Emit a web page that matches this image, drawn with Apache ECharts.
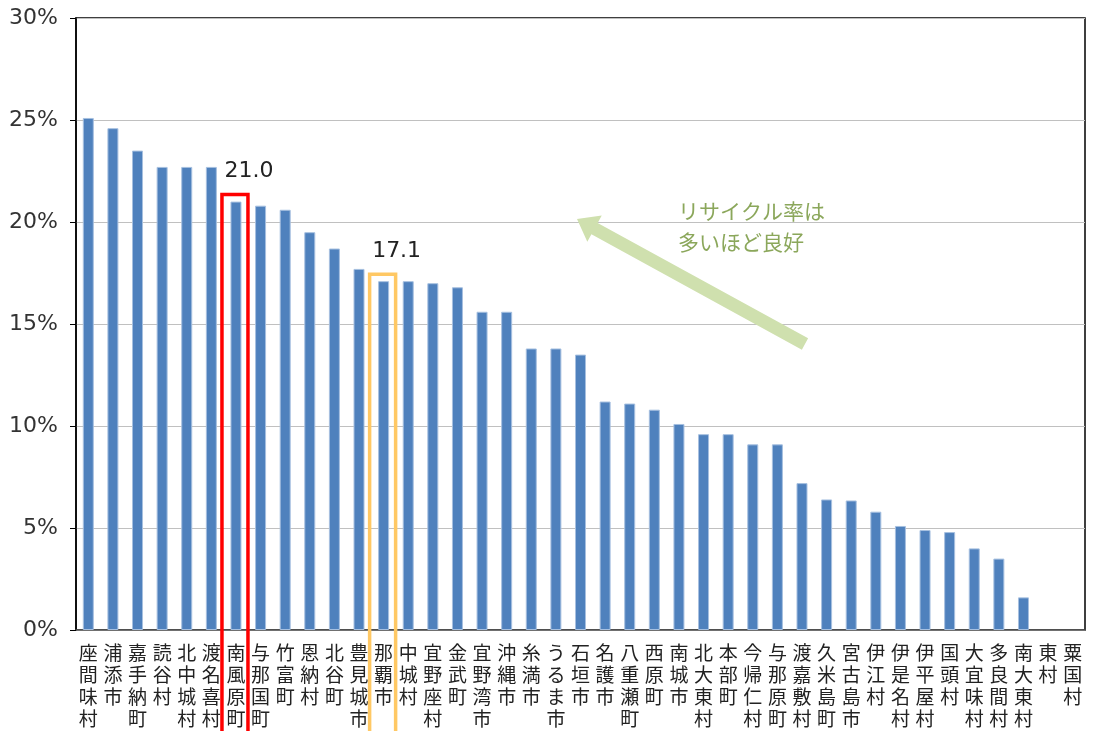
<!DOCTYPE html>
<html>
<head>
<meta charset="utf-8">
<script src="https://cdn.jsdelivr.net/npm/echarts@6/dist/echarts.min.js"></script>
<style>
  html, body { margin: 0; padding: 0; background: #fff; }
  #main { width: 1096px; height: 731px; }
</style>
</head>
<body>
<div id="main"></div>
<script>
// 市町村名
const towns = ['座間味村', '浦添市', '嘉手納町', '読谷村', '北中城村', '渡名喜村', '南風原町',
  '与那国町', '竹富町', '恩納村', '北谷町', '豊見城市', '那覇市', '中城村', '宜野座村', '金武町',
  '宜野湾市', '沖縄市', '糸満市', 'うるま市', '石垣市', '名護市', '八重瀬町', '西原町', '南城市',
  '北大東村', '本部町', '今帰仁村', '与那原町', '渡嘉敷村', '久米島町', '宮古島市', '伊江村',
  '伊是名村', '伊平屋村', '国頭村', '大宜味村', '多良間村', '南大東村', '東村', '粟国村'];

// リサイクル率 (%)
const rates = [25.1, 24.6, 23.5, 22.7, 22.7, 22.7, 21.0,
  20.8, 20.6, 19.5, 18.7, 17.7, 17.1, 17.1, 17.0, 16.8,
  15.6, 15.6, 13.8, 13.8, 13.5, 11.2, 11.1, 10.8, 10.1,
  9.6, 9.6, 9.1, 9.1, 7.2, 6.4, 6.35, 5.8,
  5.1, 4.9, 4.8, 4.0, 3.5, 1.6, 0, 0];

const yTicks = [0, 5, 10, 15, 20, 25, 30];

// 強調する市町村
const highlights = [
  { name: '南風原町', color: '#FF0000' },
  { name: '那覇市', color: '#FFC864' }
];

const FONT = '"Noto Sans CJK JP", sans-serif';
const NUM_FONT = '"DejaVu Sans", sans-serif';

const chart = echarts.init(document.getElementById('main'));

const barData = towns.map((t, i) => {
  const h = highlights.find(x => x.name === t);
  const item = { value: rates[i] };
  if (rates[i] === 0) item.itemStyle = { borderWidth: 0 };
  if (h) {
    item.label = {
      show: true,
      position: 'top',
      distance: 5,
      offset: [13, -14],
      formatter: p => p.value.toFixed(1),
      fontSize: 22,
      color: '#222',
      fontFamily: NUM_FONT
    };
  }
  return item;
});

chart.setOption({
  animation: false,
  grid: {
    left: 76,
    right: 11,
    top: 18,
    bottom: 101,
    show: true,
    borderColor: '#000',
    borderWidth: 1.5
  },
  xAxis: {
    type: 'category',
    data: towns,
    axisLine: { lineStyle: { color: '#555', width: 1.5 } },
    axisTick: { show: false },
    axisLabel: {
      interval: 0,
      margin: 12,
      fontSize: 19,
      lineHeight: 22,
      color: '#222',
      fontFamily: FONT,
      formatter: v => v.split('').join('\n'),
      verticalAlign: 'top'
    }
  },
  yAxis: {
    type: 'value',
    min: yTicks[0],
    max: yTicks[yTicks.length - 1],
    interval: 5,
    axisLine: { show: true, lineStyle: { color: '#000', width: 1.5 } },
    axisTick: { show: true, length: 6, lineStyle: { color: '#000' } },
    axisLabel: {
      margin: 18,
      fontSize: 22,
      color: '#333',
      fontFamily: NUM_FONT,
      formatter: '{value}%'
    },
    splitLine: { lineStyle: { color: '#C0C0C0', width: 1.2 } }
  },
  series: [{
    type: 'bar',
    data: barData,
    barWidth: 11,
    itemStyle: {
      color: '#4F81BD',
      borderColor: '#A7C0E0',
      borderWidth: 1
    },
    z: 2
  }]
});

// 強調枠と矢印
function arrowPoints(tail, tip, shaftHalf, headHalf, headLen) {
  const dx = tip[0] - tail[0], dy = tip[1] - tail[1];
  const len = Math.sqrt(dx * dx + dy * dy);
  const ux = dx / len, uy = dy / len;
  const nx = -uy, ny = ux;
  const bx = tip[0] - ux * headLen, by = tip[1] - uy * headLen;
  return [
    [tail[0] + nx * shaftHalf, tail[1] + ny * shaftHalf],
    [bx + nx * shaftHalf, by + ny * shaftHalf],
    [bx + nx * headHalf, by + ny * headHalf],
    tip,
    [bx - nx * headHalf, by - ny * headHalf],
    [bx - nx * shaftHalf, by - ny * shaftHalf],
    [tail[0] - nx * shaftHalf, tail[1] - ny * shaftHalf]
  ];
}

const graphics = highlights.map(h => {
  const i = towns.indexOf(h.name);
  const p = chart.convertToPixel({ xAxisIndex: 0, yAxisIndex: 0 }, [i, rates[i]]);
  return {
    type: 'rect',
    shape: { x: p[0] - 14, y: p[1] - 7, width: 26, height: 731 - p[1] + 20 },
    style: { fill: 'none', stroke: h.color, lineWidth: 3.5 },
    z: 10
  };
});

graphics.push({
  type: 'polygon',
  shape: { points: arrowPoints([805, 344], [577, 219], 6.5, 15, 20) },
  style: { fill: '#CFE0AE' },
  z: 5
});

graphics.push({
  type: 'text',
  left: 678,
  top: 196,
  style: {
    text: 'リサイクル率は\n多いほど良好',
    fontSize: 21,
    lineHeight: 31,
    fill: '#8BA75B',
    fontFamily: FONT
  },
  z: 6
});

chart.setOption({ graphic: graphics });
</script>
</body>
</html>
